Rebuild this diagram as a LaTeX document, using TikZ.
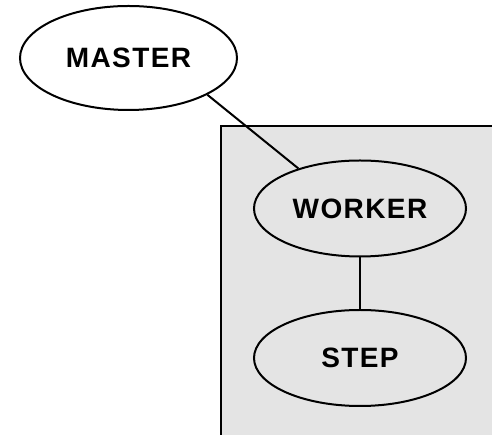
\documentclass[tikz,border=0pt]{standalone}
\usepackage{fontspec}
\usetikzlibrary{shapes.geometric}
\newfontfamily\labelfont[LetterSpace=5]{Liberation Sans}
\definecolor{panelgray}{RGB}{228,228,228}
\tikzset{
  edgeline/.style={line width=2pt, black},
  blob/.style={ellipse, draw, line width=2pt, fill=white, inner sep=0pt,
    font=\labelfont\fontsize{28}{31}\selectfont\bfseries},
  panel/.style={draw, line width=2pt, fill=panelgray}
}
\begin{document}
\begin{tikzpicture}[x=1pt,y=1pt]
  \useasboundingbox (0,0) rectangle (492,435);
  \clip (0,0) rectangle (492,435);
  % grey panel that runs off the right and bottom edges
  \draw[panel] (220.7,309) rectangle (530,-30);
  % nodes
  \node[blob, minimum width=217pt, minimum height=104pt] (master) at (128.5,377) {MASTER};
  \node[blob, fill=panelgray, minimum width=212pt, minimum height=96pt] (worker) at (360,226.5) {WORKER};
  \node[blob, fill=panelgray, minimum width=212pt, minimum height=96pt] (stepnode) at (360,77) {STEP};
  % connectors
  \draw[edgeline] (master.-25) -- (worker.147.5);
  \draw[edgeline] (worker.south) -- (stepnode.north);
\end{tikzpicture}
\end{document}
